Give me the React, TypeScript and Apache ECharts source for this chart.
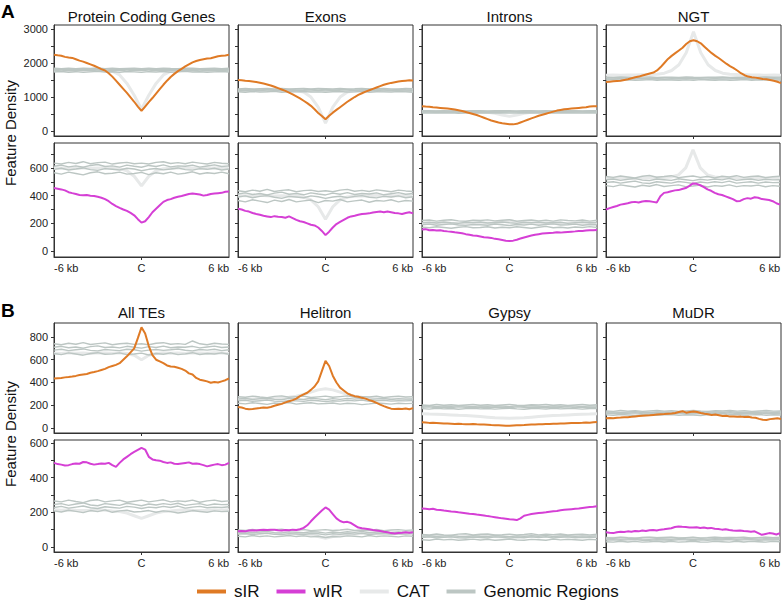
import React, { useEffect, useRef } from 'react';
import * as echarts from 'echarts';

// ---------- axes ----------
const X_FINE = [-6,-5.75,-5.5,-5.25,-5,-4.75,-4.5,-4.25,-4,-3.75,-3.5,-3.25,-3,-2.75,-2.5,-2.25,-2,-1.75,-1.5,-1.25,-1,-0.75,-0.5,-0.25,0,0.25,0.5,0.75,1,1.25,1.5,1.75,2,2.25,2.5,2.75,3,3.25,3.5,3.75,4,4.25,4.5,4.75,5,5.25,5.5,5.75,6];
const X_COARSE = [-6,-5.5,-5,-4.5,-4,-3.5,-3,-2.5,-2,-1.5,-1,-0.5,0,0.5,1,1.5,2,2.5,3,3.5,4,4.5,5,5.5,6];
const X_TICK_VALUES = [-6, 0, 6];
const X_TICK_LABELS = ['-6 kb', 'C', '6 kb'];

const TITLES_A = ['Protein Coding Genes', 'Exons', 'Introns', 'NGT'];
const TITLES_B = ['All TEs', 'Helitron', 'Gypsy', 'MuDR'];
const LEGEND_NAMES = ['sIR', 'wIR', 'CAT', 'Genomic Regions'];

const A_TOP_TICKS = [0,500,1000,1500,2000,2500,3000];
const A_TOP_LABELS = [0,1000,2000,3000];
const A_BOT_TICKS = [0,100,200,300,400,500,600,700];
const A_BOT_LABELS = [0,200,400,600];
const B_TOP_TICKS = [0,200,400,600,800];
const B_TOP_LABELS = [0,200,400,600,800];
const B_BOT_TICKS = [0,100,200,300,400,500,600];
const B_BOT_LABELS = [0,200,400,600];

// ---------- A top (sIR) ----------
const pcgSIR = [2240,2225,2215,2180,2160,2150,2110,2070,2040,2000,1960,1920,1870,1820,1780,1700,1600,1480,1360,1240,1120,990,860,720,590,720,850,970,1100,1230,1360,1480,1590,1680,1760,1830,1900,1960,2020,2060,2090,2110,2130,2140,2170,2200,2210,2220,2240];
const pcgSIRGenomic = [
  [1735,1750,1730,1745,1725,1740,1755,1735,1745,1730,1750,1740,1725,1745,1735,1750,1730,1740,1755,1735,1745,1730,1740,1750,1735],
  [1785,1770,1790,1775,1795,1780,1765,1785,1775,1790,1770,1785,1780,1770,1790,1775,1785,1765,1780,1790,1770,1785,1775,1780,1790],
  [1810,1825,1805,1815,1800,1820,1810,1830,1805,1815,1825,1800,1815,1820,1805,1810,1825,1815,1800,1820,1810,1805,1825,1815,1810],
  [1845,1835,1850,1830,1845,1840,1855,1835,1845,1830,1840,1850,1835,1845,1830,1850,1840,1835,1850,1845,1830,1840,1850,1835,1845],
];
const pcgSIRCat = [1780,1780,1785,1780,1775,1780,1780,1775,1760,1650,1400,1050,640,1050,1400,1650,1760,1775,1780,1780,1785,1780,1775,1780,1780];

const exonsSIR = [1500,1495,1480,1470,1455,1440,1420,1395,1370,1340,1300,1260,1220,1180,1130,1080,1020,960,890,820,740,640,530,440,345,450,540,620,700,780,860,930,1000,1060,1110,1160,1200,1240,1280,1320,1360,1390,1415,1435,1455,1470,1480,1490,1485];
const exonsSIRGenomic = [
  [1155,1140,1160,1145,1150,1165,1140,1155,1150,1160,1145,1150,1140,1155,1160,1145,1150,1165,1140,1155,1150,1145,1160,1150,1140],
  [1185,1195,1180,1190,1175,1185,1195,1180,1190,1185,1175,1190,1180,1195,1185,1180,1190,1175,1185,1195,1180,1190,1185,1175,1185],
  [1215,1205,1220,1210,1225,1215,1205,1220,1210,1215,1225,1210,1220,1205,1215,1225,1210,1215,1220,1205,1215,1210,1225,1215,1210],
  [1240,1250,1235,1245,1255,1240,1250,1235,1245,1250,1240,1255,1245,1235,1250,1240,1245,1255,1235,1245,1250,1240,1235,1250,1245],
];
const exonsSIRCat = [1190,1190,1195,1190,1185,1190,1190,1185,1180,1150,1000,700,230,700,1000,1150,1180,1185,1190,1190,1185,1190,1190,1195,1190];

const intronsSIR = [730,720,715,700,690,680,670,660,650,630,610,590,560,530,500,470,430,390,350,310,280,250,230,215,200,195,210,250,290,330,370,410,450,480,510,540,570,600,620,640,650,660,670,680,690,700,720,730,730];
const intronsSIRGenomic = [
  [530,525,535,528,532,524,530,536,526,532,528,534,525,530,535,527,532,528,535,525,530,533,527,532,528],
  [555,560,550,558,552,560,555,548,558,552,556,550,560,554,550,558,553,560,550,556,552,558,555,550,556],
  [575,570,580,573,578,570,576,580,572,577,574,580,570,576,580,573,578,572,580,575,570,577,574,580,575],
  [595,600,590,598,593,600,592,598,595,590,600,594,598,590,596,600,592,597,590,598,594,600,592,596,598],
];
const intronsSIRCat = [570,570,568,570,572,570,568,565,560,550,520,470,430,470,520,550,560,565,568,570,572,570,568,570,570];

const ngtSIR = [1440,1450,1460,1470,1480,1500,1520,1550,1580,1600,1630,1660,1690,1720,1780,1880,2000,2120,2210,2290,2370,2450,2560,2640,2670,2640,2580,2480,2380,2290,2210,2140,2060,1980,1910,1850,1780,1700,1640,1600,1580,1570,1550,1530,1520,1500,1480,1450,1410];
const ngtSIRGenomic = [
  [1500,1510,1495,1505,1490,1500,1510,1495,1505,1500,1490,1505,1495,1510,1500,1495,1505,1490,1500,1510,1495,1505,1500,1490,1500],
  [1530,1525,1535,1520,1530,1540,1525,1530,1520,1535,1530,1525,1540,1530,1520,1535,1525,1530,1540,1525,1530,1520,1535,1530,1525],
  [1555,1560,1550,1565,1555,1545,1560,1550,1555,1565,1550,1560,1545,1555,1560,1550,1565,1555,1545,1560,1550,1555,1565,1550,1560],
  [1580,1575,1590,1580,1570,1585,1590,1575,1580,1585,1575,1590,1580,1575,1585,1580,1590,1575,1585,1580,1570,1585,1590,1580,1585],
];
const ngtSIRCat = [1640,1650,1640,1645,1650,1655,1660,1670,1700,1780,1950,2300,2920,2300,1950,1780,1700,1670,1660,1655,1650,1645,1640,1650,1640];

// ---------- A bottom (wIR) ----------
const pcgWIR = [455,450,445,438,425,418,412,405,402,404,400,398,392,385,375,360,340,325,312,300,290,275,258,230,205,215,245,280,305,330,355,368,375,385,392,398,405,412,415,412,408,400,405,412,415,418,420,428,430];
const pcgWIRGenomic = [
  [565,555,570,560,550,565,572,558,562,570,555,560,568,552,565,558,570,555,562,572,556,565,560,570,558],
  [590,598,585,592,600,588,582,595,590,585,598,592,580,590,596,586,592,600,588,584,595,590,598,585,592],
  [612,620,608,615,605,618,625,610,615,606,620,612,605,618,610,622,608,615,612,620,606,614,622,610,615],
  [635,628,640,632,645,630,638,642,628,636,640,630,635,628,640,645,632,638,630,642,635,628,640,634,630],
];
const pcgWIRCat = [600,600,598,602,600,598,600,600,598,595,580,540,470,540,580,595,598,600,602,600,598,600,600,602,600];

const exonsWIR = [305,300,290,285,275,268,262,255,250,245,252,248,245,240,250,238,225,215,210,200,190,185,170,145,115,140,170,195,210,225,240,250,255,262,268,270,272,278,282,285,280,285,280,275,272,268,275,280,272];
const exonsWIRGenomic = [
  [365,355,370,360,350,368,358,372,355,362,368,350,365,360,372,355,362,368,352,365,360,370,355,365,360],
  [390,398,385,395,400,388,380,395,390,385,398,392,380,390,396,386,395,400,388,384,395,390,398,385,392],
  [412,420,408,415,405,418,425,410,415,406,420,412,405,418,410,422,408,415,412,420,406,414,422,410,415],
  [435,428,440,432,445,430,438,442,428,436,440,430,435,428,440,445,432,438,430,442,435,428,440,434,430],
];
const exonsWIRCat = [400,400,398,402,400,398,400,398,395,390,370,320,230,320,370,390,395,398,400,402,400,398,400,400,398];

const intronsWIR = [155,158,150,152,148,150,145,142,140,135,132,128,122,118,112,110,105,100,98,95,88,85,80,75,72,75,82,90,98,105,112,118,122,126,128,130,132,135,133,136,138,140,142,145,145,148,150,150,152];
const intronsWIRGenomic = [
  [172,168,175,170,165,172,176,168,170,175,166,172,168,175,170,165,172,178,168,172,166,174,170,176,170],
  [190,194,186,192,196,188,185,192,190,186,195,190,184,192,188,194,186,192,196,188,190,194,186,192,190],
  [205,208,202,210,204,200,208,205,210,202,206,210,204,200,208,205,210,202,206,208,200,205,210,204,206],
  [220,224,216,222,226,218,215,222,220,225,218,222,226,215,220,224,218,222,216,225,220,218,224,216,222],
];
const intronsWIRCat = [200,200,202,200,198,200,202,200,200,203,205,210,220,210,205,203,200,200,202,200,198,200,200,202,200];

const ngtWIR = [300,310,318,325,335,340,345,352,355,350,358,362,360,355,350,395,420,425,432,438,440,448,455,470,488,485,475,462,445,435,420,410,405,395,385,375,360,362,375,382,378,388,385,375,372,368,360,345,335];
const ngtWIRGenomic = [
  [472,465,478,470,462,475,468,480,466,472,478,465,470,476,462,472,468,478,465,472,470,476,464,472,468],
  [495,500,490,498,505,492,488,500,495,490,502,496,488,498,492,500,494,505,490,496,500,490,498,494,495],
  [515,520,510,518,525,512,508,520,515,510,522,515,508,518,512,520,514,525,510,516,520,510,518,514,515],
  [538,532,542,535,528,540,545,533,538,544,530,536,542,532,538,528,540,535,544,532,538,542,530,536,540],
];
const ngtWIRCat = [525,525,528,525,522,525,528,530,530,535,550,600,730,600,550,535,530,530,528,525,522,525,528,525,525];

// ---------- B top (sIR) ----------
const teSIR = [435,438,440,445,448,452,458,465,470,475,485,492,500,510,520,535,545,555,570,600,630,665,700,790,885,830,720,640,600,585,570,550,540,538,530,520,505,480,470,440,425,418,410,398,405,400,410,420,435];
const teSIRGenomic = [
  [655,645,660,650,640,655,662,648,652,660,645,650,658,642,655,648,660,645,652,662,646,655,650,660,648],
  [685,692,680,688,695,682,678,690,685,680,692,688,676,685,690,682,688,695,684,678,690,685,692,680,688],
  [710,718,705,712,702,715,722,708,712,704,718,710,702,715,708,720,705,712,710,718,704,712,720,708,712],
  [740,732,745,736,750,734,742,748,732,740,745,735,740,732,745,750,736,742,735,765,740,732,745,738,735],
];
const teSIRCat = [660,655,662,658,660,655,662,660,658,662,655,640,600,640,655,662,658,660,655,662,660,658,662,660,655];

const helitronSIR = [185,180,170,165,168,172,175,180,178,185,195,205,212,225,235,245,258,280,295,310,335,365,410,500,590,545,460,400,355,330,305,290,280,275,265,258,245,235,220,205,192,180,170,168,170,168,172,165,175];
const helitronSIRGenomic = [
  [218,212,222,215,208,220,214,224,210,218,222,212,215,220,210,218,214,205,212,220,215,210,218,214,216],
  [238,244,234,240,246,236,232,242,238,234,244,240,232,240,236,244,238,246,234,240,244,236,240,238,242],
  [255,260,250,258,264,252,248,260,255,250,262,256,248,258,252,260,254,262,250,256,260,250,258,254,255],
  [275,270,280,272,266,278,282,270,276,280,268,274,280,270,276,282,270,276,272,280,268,276,280,272,276],
];
const helitronSIRCat = [255,258,255,260,258,262,265,270,280,295,315,335,345,335,315,295,280,270,265,262,260,258,255,258,255];

const gypsySIR = [50,48,45,46,44,42,40,40,38,36,38,35,34,33,35,32,30,30,28,26,25,24,22,20,20,22,24,25,26,28,30,30,32,34,35,36,38,38,40,40,42,43,44,45,46,48,47,50,52];
const gypsySIRGenomic = [
  [170,166,174,168,172,165,170,174,168,172,166,170,174,168,165,172,170,166,174,168,172,170,166,172,170],
  [182,186,178,184,180,186,182,178,185,180,184,182,178,186,182,180,185,178,184,182,186,180,184,182,180],
  [192,195,188,194,190,196,192,188,194,190,196,192,188,194,190,195,192,188,196,190,194,192,188,194,192],
  [202,198,206,200,204,198,202,206,200,204,198,202,206,200,198,204,202,206,200,204,198,202,206,200,204],
];
const gypsySIRCat = [125,122,120,118,115,112,110,105,100,95,90,88,85,88,90,95,100,105,110,112,115,118,120,122,125];

const mudrSIR = [85,88,86,90,92,95,95,98,102,105,108,110,112,115,118,120,122,125,128,132,140,148,135,140,145,140,132,125,120,115,118,112,105,108,100,102,98,100,96,98,92,90,80,72,70,78,82,85,80];
const mudrSIRGenomic = [
  [115,112,118,114,110,116,118,112,115,118,112,116,114,110,118,115,112,116,118,112,115,118,112,116,114],
  [128,132,125,130,134,126,124,130,128,125,132,128,124,130,127,132,126,134,128,125,130,128,132,126,130],
  [138,142,135,140,144,136,134,140,138,135,142,138,134,140,137,142,136,144,138,135,140,138,142,136,140],
  [150,146,154,148,152,146,150,154,148,152,146,150,154,148,146,152,150,154,148,152,146,150,154,148,150],
];
const mudrSIRCat = [132,132,130,132,134,132,130,132,134,136,138,140,142,140,138,136,134,132,130,132,134,132,130,132,132];

// ---------- B bottom (wIR) ----------
const teWIR = [485,478,475,470,472,478,482,480,490,488,480,475,478,482,480,485,472,462,485,505,520,535,548,560,572,562,520,505,500,498,490,485,488,480,478,482,485,488,480,482,478,472,465,470,475,478,472,475,485];
const teWIRGenomic = [
  [208,202,212,205,198,210,204,214,200,208,212,202,205,210,200,208,204,196,202,210,205,200,208,204,206],
  [228,234,224,230,236,226,222,232,228,224,234,230,222,230,226,234,228,236,224,230,234,226,230,228,232],
  [245,250,240,248,254,242,238,250,245,240,252,246,238,248,242,250,244,252,240,246,250,240,248,244,245],
  [265,260,270,262,256,268,272,260,266,270,258,264,270,260,266,272,260,266,262,270,258,266,270,262,266],
];
const teWIRCat = [215,212,215,212,210,212,215,212,208,205,195,180,165,180,195,205,208,212,215,212,210,212,215,212,215];

const helitronWIR = [90,92,90,95,97,95,98,100,98,100,99,96,95,98,96,100,98,102,110,125,148,170,190,210,228,215,190,165,150,142,145,138,125,112,108,105,102,98,95,92,88,85,80,78,80,82,85,82,85];
const helitronWIRGenomic = [
  [62,58,66,60,64,58,62,66,60,64,58,62,55,60,58,64,62,58,66,60,64,62,58,64,62],
  [75,78,72,76,80,73,71,77,75,72,78,76,70,76,73,78,74,80,72,76,78,73,76,74,77],
  [85,88,82,86,90,83,81,87,85,82,88,86,80,86,83,88,84,90,82,86,88,83,86,84,87],
  [98,95,101,96,93,100,102,96,99,101,94,97,100,95,98,102,95,98,96,101,94,98,100,96,98],
];
const helitronWIRCat = [80,78,80,82,80,78,80,78,76,72,68,60,50,60,68,72,76,78,80,78,80,82,80,78,80];

const gypsyWIR = [222,220,218,220,215,213,210,208,205,203,200,198,195,192,190,187,185,182,178,175,172,168,165,163,160,158,155,165,180,185,190,193,196,198,200,203,206,208,212,214,216,218,220,222,225,228,230,232,235];
const gypsyWIRGenomic = [
  [42,39,45,41,44,39,42,45,40,44,39,42,45,40,39,44,42,39,45,41,44,42,39,44,42],
  [55,58,52,56,59,53,52,57,55,52,58,56,51,56,53,58,54,59,52,56,58,53,56,54,57],
  [62,65,60,64,67,61,59,65,62,60,66,63,59,64,61,65,62,67,60,63,65,61,64,62,64],
  [72,69,75,70,68,74,76,70,73,75,69,71,74,69,72,76,70,73,71,75,69,72,74,70,73],
];
const gypsyWIRCat = [60,60,62,60,58,60,62,60,60,62,60,58,58,58,60,62,60,60,62,60,58,60,62,60,60];

const mudrWIR = [85,82,80,85,88,86,90,88,92,90,95,92,96,98,95,100,102,105,108,115,118,116,115,113,112,114,110,112,108,110,105,103,100,102,98,95,93,95,92,90,88,90,80,70,75,80,78,72,80];
const mudrWIRGenomic = [
  [30,28,33,29,32,28,30,33,29,32,28,30,33,29,28,32,30,28,33,29,32,30,28,32,30],
  [40,42,38,41,43,39,38,42,40,38,42,41,37,41,39,42,40,43,38,41,42,39,41,40,42],
  [46,48,44,47,49,45,44,48,46,44,48,47,43,47,45,48,46,49,44,47,48,45,47,46,48],
  [54,52,56,53,51,55,57,53,55,56,52,54,56,52,54,57,53,55,53,56,52,54,56,53,55],
];
const mudrWIRCat = [50,50,52,50,48,50,52,50,50,52,50,48,50,48,50,52,50,50,52,50,48,50,52,50,50];

// ---------- styling ----------
const FONT = '"Liberation Sans", Arial, sans-serif';
const COLORS: Record<string, string> = {
  sIR: '#df7a25',
  wIR: '#d53fd5',
  CAT: '#e7e9e9',
  'Genomic Regions': '#bcc6c3',
};
const AXIS_COLOR = '#333';
const COL_LEFT = [54, 238, 422, 606];
const COL_WIDTH = 175;

const ROWS = [
  { top: 25, height: 111, min: -147, max: 3118, ticks: A_TOP_TICKS, labels: A_TOP_LABELS, showX: false, kind: 'sIR',
    panels: [
      [pcgSIR, pcgSIRGenomic, pcgSIRCat], [exonsSIR, exonsSIRGenomic, exonsSIRCat],
      [intronsSIR, intronsSIRGenomic, intronsSIRCat], [ngtSIR, ngtSIRGenomic, ngtSIRCat]] },
  { top: 143, height: 114, min: -43, max: 780, ticks: A_BOT_TICKS, labels: A_BOT_LABELS, showX: true, kind: 'wIR',
    panels: [
      [pcgWIR, pcgWIRGenomic, pcgWIRCat], [exonsWIR, exonsWIRGenomic, exonsWIRCat],
      [intronsWIR, intronsWIRGenomic, intronsWIRCat], [ngtWIR, ngtWIRGenomic, ngtWIRCat]] },
  { top: 323, height: 110, min: -44, max: 923, ticks: B_TOP_TICKS, labels: B_TOP_LABELS, showX: false, kind: 'sIR',
    panels: [
      [teSIR, teSIRGenomic, teSIRCat], [helitronSIR, helitronSIRGenomic, helitronSIRCat],
      [gypsySIR, gypsySIRGenomic, gypsySIRCat], [mudrSIR, mudrSIRGenomic, mudrSIRCat]] },
  { top: 440, height: 112, min: -29, max: 617, ticks: B_BOT_TICKS, labels: B_BOT_LABELS, showX: true, kind: 'wIR',
    panels: [
      [teWIR, teWIRGenomic, teWIRCat], [helitronWIR, helitronWIRGenomic, helitronWIRCat],
      [gypsyWIR, gypsyWIRGenomic, gypsyWIRCat], [mudrWIR, mudrWIRGenomic, mudrWIRCat]] },
];

function buildOption() {
  const grid: any[] = [];
  const xAxis: any[] = [];
  const yAxis: any[] = [];
  const series: any[] = [];
  let gi = 0;
  ROWS.forEach((row) => {
    row.panels.forEach((panel: any, c: number) => {
      const [main, genomic, cat] = panel;
      grid.push({
        left: COL_LEFT[c], top: row.top, width: COL_WIDTH, height: row.height,
        show: true, borderColor: AXIS_COLOR, borderWidth: 1, backgroundColor: 'transparent',
      });
      xAxis.push({
        gridIndex: gi, type: 'value', min: -6, max: 6,
        axisLine: { show: true, onZero: false, lineStyle: { color: AXIS_COLOR, width: 1 } },
        axisTick: { show: true, customValues: [0], length: 3, lineStyle: { color: AXIS_COLOR } },
        axisLabel: {
          show: row.showX, customValues: X_TICK_VALUES, margin: 5, fontSize: 11, color: '#222', fontFamily: FONT,
          alignMinLabel: 'left', alignMaxLabel: 'right',
          formatter: (v: number) => X_TICK_LABELS[X_TICK_VALUES.indexOf(v)] ?? '',
        },
        splitLine: { show: false },
      });
      yAxis.push({
        gridIndex: gi, type: 'value', min: row.min, max: row.max,
        axisLine: { show: true, onZero: false, lineStyle: { color: AXIS_COLOR, width: 1 } },
        axisTick: { show: true, customValues: row.ticks, length: 3, lineStyle: { color: AXIS_COLOR } },
        axisLabel: {
          show: c === 0, customValues: row.labels, margin: 6, fontSize: 11, color: '#222', fontFamily: FONT,
          formatter: (v: number) => String(v),
        },
        splitLine: { show: false },
      });
      series.push({
        name: 'CAT', type: 'line', xAxisIndex: gi, yAxisIndex: gi, silent: true,
        data: X_COARSE.map((x, i) => [x, cat[i]]), showSymbol: false, symbol: 'none',
        color: COLORS.CAT, itemStyle: { color: COLORS.CAT },
        lineStyle: { color: COLORS.CAT, width: 3 }, z: 1,
      });
      genomic.forEach((g: number[]) => {
        series.push({
          name: 'Genomic Regions', type: 'line', xAxisIndex: gi, yAxisIndex: gi, silent: true,
          data: X_COARSE.map((x, i) => [x, g[i]]), showSymbol: false, symbol: 'none',
          color: COLORS['Genomic Regions'], itemStyle: { color: COLORS['Genomic Regions'] },
          lineStyle: { color: COLORS['Genomic Regions'], width: 1.4 }, z: 2,
        });
      });
      series.push({
        name: row.kind, type: 'line', xAxisIndex: gi, yAxisIndex: gi, silent: true,
        data: X_FINE.map((x, i) => [x, main[i]]), showSymbol: false, symbol: 'none',
        color: COLORS[row.kind], itemStyle: { color: COLORS[row.kind] },
        lineStyle: { color: COLORS[row.kind], width: 2 }, z: 3,
      });
      gi++;
    });
  });

  const centers = COL_LEFT.map((l) => l + COL_WIDTH / 2);
  const graphic: any[] = [];
  TITLES_A.forEach((t, i) => graphic.push({ type: 'text', x: centers[i], y: 16,
    style: { text: t, textAlign: 'center', textVerticalAlign: 'middle', font: `15px ${FONT}`, fill: '#111' } }));
  TITLES_B.forEach((t, i) => graphic.push({ type: 'text', x: centers[i], y: 312,
    style: { text: t, textAlign: 'center', textVerticalAlign: 'middle', font: `15px ${FONT}`, fill: '#111' } }));
  graphic.push({ type: 'text', x: 1, y: 11, style: { text: 'A', textAlign: 'left', textVerticalAlign: 'middle', font: `bold 19px ${FONT}`, fill: '#000' } });
  graphic.push({ type: 'text', x: 1, y: 310, style: { text: 'B', textAlign: 'left', textVerticalAlign: 'middle', font: `bold 19px ${FONT}`, fill: '#000' } });
  graphic.push({ type: 'text', x: 10, y: 133, rotation: Math.PI / 2,
    style: { text: 'Feature Density', textAlign: 'center', textVerticalAlign: 'middle', font: `15px ${FONT}`, fill: '#111' } });
  graphic.push({ type: 'text', x: 10, y: 434, rotation: Math.PI / 2,
    style: { text: 'Feature Density', textAlign: 'center', textVerticalAlign: 'middle', font: `15px ${FONT}`, fill: '#111' } });

  return {
    animation: false,
    backgroundColor: '#fff',
    grid, xAxis, yAxis, series, graphic,
    legend: {
      data: LEGEND_NAMES, left: 192, top: 578, icon: 'rect', itemWidth: 29, itemHeight: 4, itemGap: 17,
      selectedMode: false,
      textStyle: { fontSize: 17, color: '#111', fontFamily: FONT, padding: [0, 0, 0, 3] },
    },
  };
}

export default function App() {
  const ref = useRef<HTMLDivElement>(null);
  useEffect(() => {
    document.body.style.margin = '0';
    if (!ref.current) return;
    const chart = echarts.init(ref.current, undefined, { renderer: 'svg' });
    chart.setOption(buildOption() as any);
    return () => chart.dispose();
  }, []);
  return <div ref={ref} style={{ width: 783, height: 601 }} />;
}
